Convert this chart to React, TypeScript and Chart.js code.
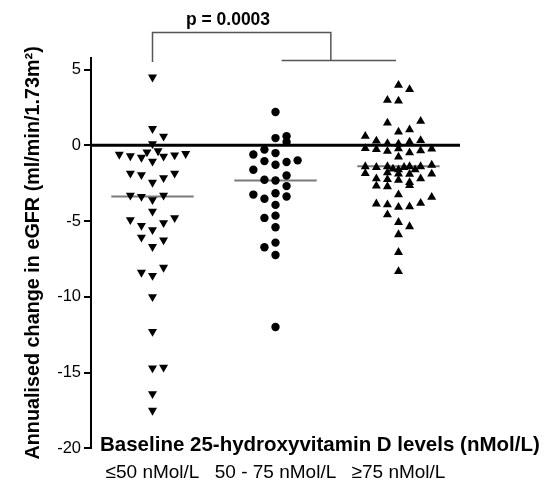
import React, { useEffect, useRef } from "react";
import { Chart, registerables } from "chart.js";

Chart.register(...registerables);

// ---- data ----
const groupLabels = ["≤50 nMol/L", "50 - 75 nMol/L", "≥75 nMol/L"];
const groupPositions = [1, 2, 3];
const yTicks = [5, 0, -5, -10, -15, -20];

// ≤50 nMol/L group: annualised eGFR change and horizontal spread column
const lowValues = [4.5, 1.1, 0.6, 0.1, -0.6, -0.7, -0.8, -0.45, -1.05, -0.37, -0.72, -0.64, -0.55, -1.85, -1.95, -2.45, -2.15, -1.85, -3.3, -3.38, -3.6, -3.3, -4.35, -4.92, -5.3, -5.58, -5.12, -4.79, -6.07, -6.69, -6.25, -8.39, -8.6, -8.06, -10.0, -12.3, -14.7, -14.65, -16.4, -17.5];
const lowColumns = [0, 0, 1, 0, -3, -2, -1, -0.5, 0, 0.5, 1, 2, 3, -2, -1, 0, 1, 2, -2, -1, 0, 1, 0, -2, -1, 0, 1, 2, -1, 0, 1, -1, 0, 1, 0, 0, 0, 1, 0, 0];

// 50 - 75 nMol/L group
const midValues = [2.2, 0.48, 0.6, 0.22, -0.6, -0.28, -0.51, -1.04, -1.28, -1.1, -0.99, -1.61, -2.27, -2.32, -1.99, -2.69, -3.25, -3.53, -3.16, -3.38, -3.93, -4.79, -4.64, -5.41, -6.42, -6.73, -7.24, -11.99];
const midColumns = [0, 0, 1, 1, -2, -1, 0, -1, 0, 1, 2, -2, -1, 0, 1, 1, -2, -1, 0, 1, 0, -1, 0, 0, 0, -1, 0, 0];

// ≥75 nMol/L group
const highValues = [3.97, 3.69, 2.98, 2.93, 1.48, 1.59, 0.88, 1.04, 0.6, 0.29, 0.13, 0.1, 0.22, 0.33, -0.2, -0.27, -0.38, -0.22, -0.48, -0.35, -0.24, -0.77, -1.4, -1.45, -1.4, -1.55, -1.6, -1.45, -1.4, -1.6, -1.4, -1.3, -1.85, -1.8, -1.88, -1.9, -1.88, -2.2, -2.25, -2.3, -2.2, -2.45, -2.68, -2.72, -2.65, -3.25, -3.42, -3.86, -3.91, -4.08, -4.05, -3.82, -4.57, -5.08, -5.36, -5.89, -7.06, -8.32];
const highColumns = [0, 1, -1, 0, -1, 2, 0, 1, -3, -2, -1, 0, 1, 2, -3, -2, -1, 0, 1, 2, 3, 0, -3, -2, -1, -0.5, 0, 0.5, 1, 1.5, 2, 3, -3, -1, 0, 1, 3, -2, -1, 0, 2, 1, -2, -1, 1, 0, 3, -2, -1, 0, 1, 2, -1, 0, 1, 0, 0, 0];

const medianValues = [-3.38, -2.32, -1.38];

// significance bracket (x in group units, y in eGFR units)
const bracketLeftX = 1;
const bracketRightX = 2.45;
const bracketTopY = 7.45;
const bracketLeftBottomY = 5.5;
const bracketBaseY = 5.6;
const bracketBaseSpan = [2.05, 2.98];
const pValueLabel = "p = 0.0003";
const xTitle = "Baseline 25-hydroxyvitamin D levels (nMol/L)";
const yTitle = "Annualised change in eGFR (ml/min/1.73m²)";

// ---- layout / style constants ----
const SPREAD_STEP = 0.09;
const MEDIAN_HALF = 0.335;
const FONT = "'Liberation Sans', Arial, sans-serif";

const toPoints = (values: number[], cols: number[], g: number) =>
  values.map((v, i) => ({ x: g + cols[i] * SPREAD_STEP, y: v }));

const annotPlugin = {
  id: "annot",
  afterDraw(chart: any) {
    const { ctx } = chart;
    const x = chart.scales.x;
    const y = chart.scales.y;
    ctx.save();
    ctx.strokeStyle = "#555";
    ctx.lineWidth = 1.5;
    ctx.beginPath();
    ctx.moveTo(x.getPixelForValue(bracketLeftX), y.getPixelForValue(bracketLeftBottomY));
    ctx.lineTo(x.getPixelForValue(bracketLeftX), y.getPixelForValue(bracketTopY));
    ctx.lineTo(x.getPixelForValue(bracketRightX), y.getPixelForValue(bracketTopY));
    ctx.lineTo(x.getPixelForValue(bracketRightX), y.getPixelForValue(bracketBaseY));
    ctx.moveTo(x.getPixelForValue(bracketBaseSpan[0]), y.getPixelForValue(bracketBaseY));
    ctx.lineTo(x.getPixelForValue(bracketBaseSpan[1]), y.getPixelForValue(bracketBaseY));
    ctx.stroke();

    ctx.fillStyle = "#000";
    ctx.font = `bold 17.5px ${FONT}`;
    ctx.textAlign = "center";
    ctx.textBaseline = "alphabetic";
    ctx.fillText(pValueLabel, 228, 25);

    ctx.font = `bold 20.5px ${FONT}`;
    ctx.textAlign = "left";
    ctx.textBaseline = "middle";
    ctx.fillText(xTitle, 100, 445);
    ctx.restore();
  },
};

export default function App() {
  const ref = useRef<HTMLCanvasElement | null>(null);
  useEffect(() => {
    if (!ref.current) return;
    const pointBase = { backgroundColor: "#000", borderColor: "#000", borderWidth: 0 };
    const lineBase = { type: "line", showLine: true, pointRadius: 0, fill: false };
    const chart = new Chart(ref.current, {
      type: "scatter",
      data: {
        datasets: [
          { ...pointBase, data: toPoints(lowValues, lowColumns, groupPositions[0]), pointStyle: "triangle", rotation: 180, pointRadius: 5.2 } as any,
          { ...pointBase, data: toPoints(midValues, midColumns, groupPositions[1]), pointStyle: "circle", pointRadius: 4.2 } as any,
          { ...pointBase, data: toPoints(highValues, highColumns, groupPositions[2]), pointStyle: "triangle", pointRadius: 5.2 } as any,
          ...medianValues.map((m, i) => ({
            ...lineBase,
            data: [
              { x: groupPositions[i] - MEDIAN_HALF, y: m },
              { x: groupPositions[i] + MEDIAN_HALF, y: m },
            ],
            borderColor: "#7a7a7a",
            borderWidth: 2,
          })) as any,
          {
            ...lineBase,
            data: [
              { x: 0.5, y: 0 },
              { x: 3.5, y: 0 },
            ],
            borderColor: "#000",
            borderWidth: 3,
          } as any,
        ],
      },
      options: {
        animation: false,
        responsive: true,
        maintainAspectRatio: false,
        layout: { padding: { top: 57.5, right: 90, bottom: 0, left: 0 } },
        plugins: { legend: { display: false }, tooltip: { enabled: false } },
        scales: {
          x: {
            type: "linear",
            min: 0.5,
            max: 3.5,
            afterBuildTicks: (s: any) => {
              s.ticks = groupPositions.map((v) => ({ value: v }));
            },
            afterFit: (s: any) => {
              s.height = 36.7;
            },
            border: { display: false },
            grid: { display: false, drawTicks: false },
            ticks: {
              autoSkip: false,
              maxRotation: 0,
              padding: 13,
              color: "#000",
              font: { family: FONT, size: 19 },
              callback: (v: any) => groupLabels[Math.round(Number(v)) - 1] ?? "",
            },
          },
          y: {
            min: -20,
            max: 5.8,
            afterBuildTicks: (s: any) => {
              s.ticks = yTicks.map((v) => ({ value: v }));
            },
            afterFit: (s: any) => {
              s.width = 91;
            },
            border: { display: true, color: "#000", width: 2 },
            grid: { display: true, drawOnChartArea: false, drawTicks: true, tickLength: 7, color: "#000", lineWidth: 2 },
            ticks: { color: "#000", padding: 3, font: { family: FONT, size: 16.5 } },
            title: {
              display: true,
              text: yTitle,
              color: "#000",
              font: { family: FONT, size: 19.8, weight: "bold" },
              padding: { top: 22, bottom: 0 },
            },
          },
        },
      } as any,
      plugins: [annotPlugin],
    });
    return () => chart.destroy();
  }, []);
  return (
    <div style={{ position: "absolute", left: 0, top: 0, width: 550, height: 485, background: "#fff" }}>
      <canvas ref={ref} />
    </div>
  );
}
